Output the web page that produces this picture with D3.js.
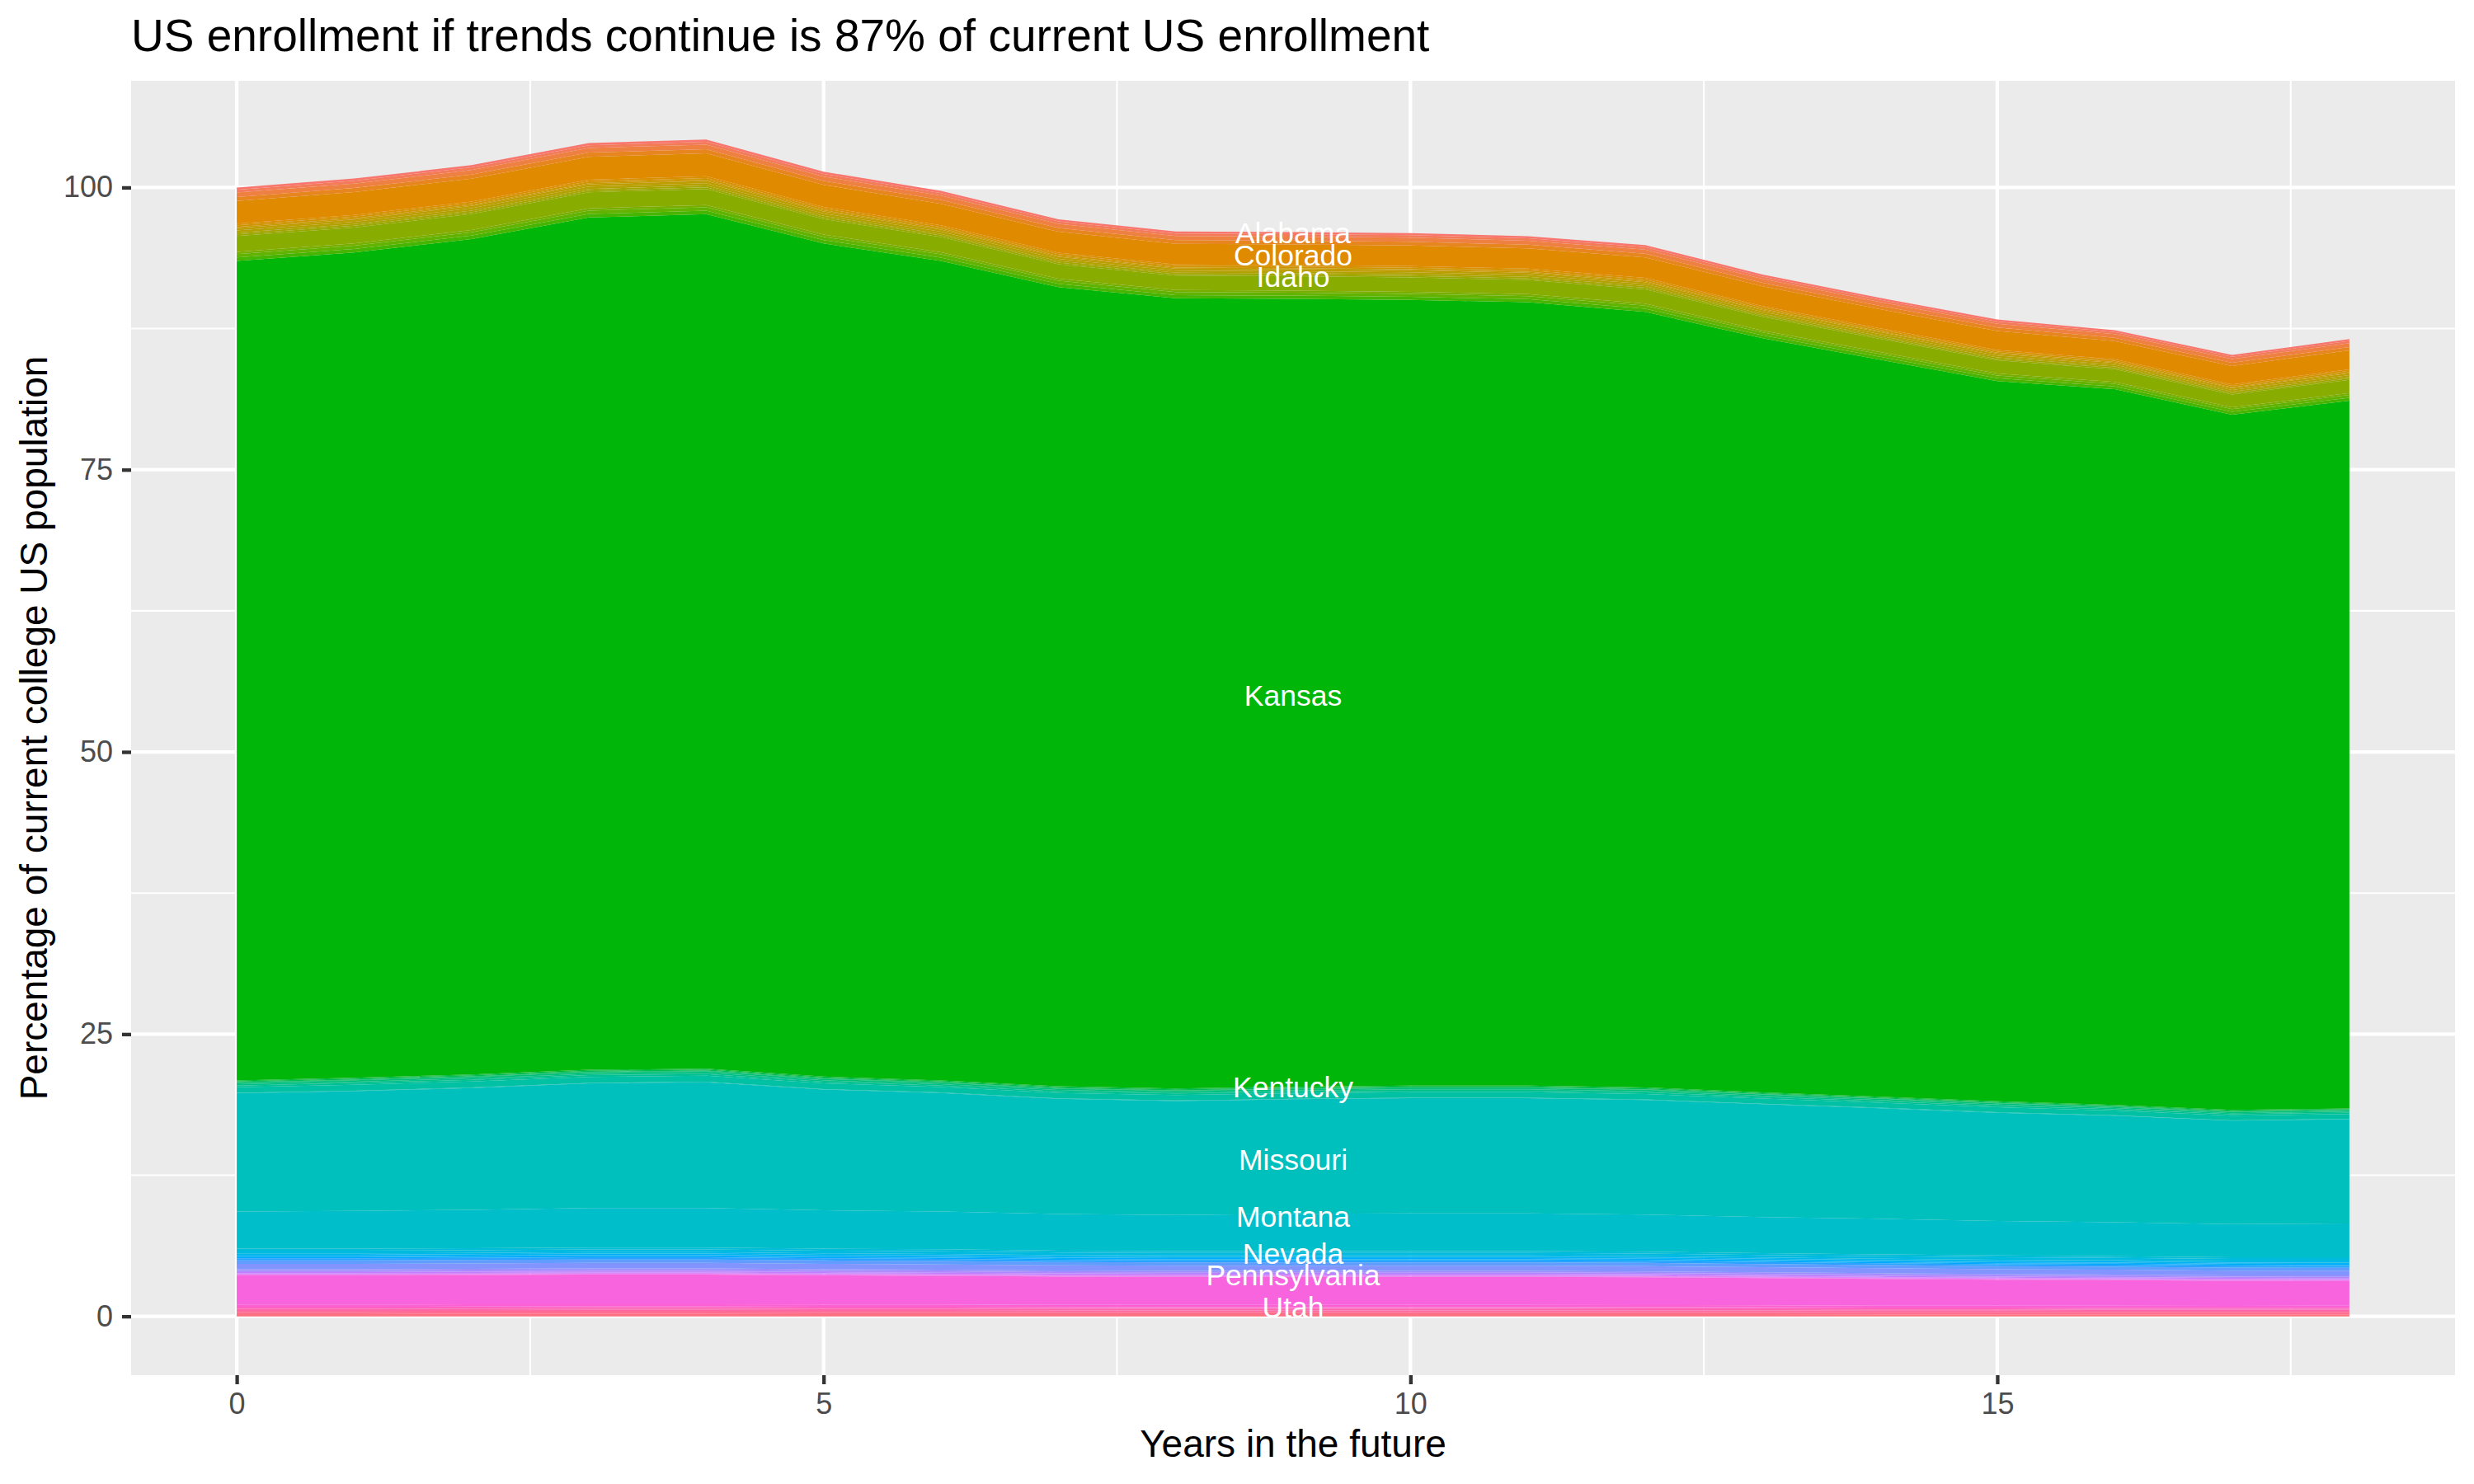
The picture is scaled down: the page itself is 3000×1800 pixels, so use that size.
<!DOCTYPE html>
<html>
<head>
<meta charset="utf-8">
<script src="https://cdn.jsdelivr.net/npm/d3@7"></script>
<style>
  body { margin: 0; background: #fff; }
  svg { display: block; font-family: "Liberation Sans", Arial, Helvetica, sans-serif; }
  .grid-major line { stroke: #fff; stroke-width: 4.3; }
  .grid-minor line { stroke: #fff; stroke-width: 2.1; }
  .tick-label { fill: #4d4d4d; font-size: 36px; }
  .axis-title { fill: #000; font-size: 46px; }
  .state-label { fill: #fff; font-size: 35.5px; }
</style>
</head>
<body>
<svg id="chart" width="3000" height="1800"></svg>
<script>
// ---- data ---------------------------------------------------------------
const years = [0, 1, 2, 3, 4, 5, 6, 7, 8, 9, 10, 11, 12, 13, 14, 15, 16, 17, 18];

const states = [
  'Alabama', 'Alaska', 'Arizona', 'Arkansas', 'California', 'Colorado', 'Connecticut',
  'Delaware', 'District of Columbia', 'Florida', 'Georgia', 'Hawaii', 'Idaho', 'Illinois',
  'Indiana', 'Iowa', 'Kansas', 'Kentucky', 'Louisiana', 'Maine', 'Maryland', 'Massachusetts',
  'Michigan', 'Minnesota', 'Mississippi', 'Missouri', 'Montana', 'Nebraska', 'Nevada',
  'New Hampshire', 'New Jersey', 'New Mexico', 'New York', 'North Carolina', 'North Dakota',
  'Ohio', 'Oklahoma', 'Oregon', 'Pennsylvania', 'Rhode Island', 'South Carolina',
  'South Dakota', 'Tennessee', 'Texas', 'Utah', 'Vermont', 'Virginia', 'Washington',
  'West Virginia', 'Wisconsin', 'Wyoming'
];

// Alabama .. Iowa (top of the stack)
const upperValues = [
  [0.20, 0.20, 0.20, 0.20, 0.20, 0.20, 0.19, 0.18, 0.18, 0.18, 0.18, 0.18, 0.18, 0.17, 0.17, 0.17, 0.16, 0.16, 0.17],
  [0.24, 0.24, 0.24, 0.24, 0.24, 0.23, 0.23, 0.22, 0.22, 0.22, 0.22, 0.22, 0.22, 0.21, 0.20, 0.20, 0.19, 0.20, 0.20],
  [0.40, 0.40, 0.40, 0.41, 0.41, 0.39, 0.38, 0.37, 0.36, 0.36, 0.36, 0.36, 0.36, 0.35, 0.34, 0.34, 0.32, 0.33, 0.34],
  [0.36, 0.36, 0.36, 0.37, 0.37, 0.35, 0.34, 0.33, 0.33, 0.33, 0.33, 0.32, 0.33, 0.31, 0.30, 0.30, 0.29, 0.29, 0.30],
  [2.00, 2.02, 2.02, 2.03, 2.03, 1.95, 1.91, 1.85, 1.82, 1.82, 1.82, 1.80, 1.82, 1.74, 1.69, 1.68, 1.62, 1.63, 1.68],
  [0.15, 0.15, 0.15, 0.15, 0.15, 0.15, 0.14, 0.14, 0.14, 0.14, 0.14, 0.14, 0.14, 0.13, 0.13, 0.13, 0.12, 0.12, 0.13],
  [0.15, 0.15, 0.15, 0.16, 0.16, 0.15, 0.14, 0.14, 0.14, 0.14, 0.14, 0.13, 0.14, 0.13, 0.13, 0.12, 0.12, 0.12, 0.13],
  [0.10, 0.10, 0.10, 0.10, 0.10, 0.10, 0.10, 0.09, 0.09, 0.09, 0.09, 0.09, 0.09, 0.09, 0.08, 0.08, 0.08, 0.08, 0.08],
  [0.20, 0.20, 0.20, 0.20, 0.20, 0.19, 0.19, 0.18, 0.18, 0.18, 0.18, 0.18, 0.18, 0.17, 0.17, 0.17, 0.16, 0.16, 0.17],
  [0.20, 0.21, 0.21, 0.21, 0.21, 0.20, 0.19, 0.19, 0.18, 0.18, 0.18, 0.18, 0.18, 0.17, 0.17, 0.17, 0.16, 0.16, 0.17],
  [0.15, 0.15, 0.15, 0.15, 0.15, 0.15, 0.14, 0.14, 0.14, 0.14, 0.14, 0.14, 0.14, 0.13, 0.13, 0.13, 0.12, 0.12, 0.13],
  [0.15, 0.15, 0.15, 0.15, 0.15, 0.14, 0.14, 0.14, 0.13, 0.13, 0.14, 0.13, 0.14, 0.13, 0.12, 0.12, 0.12, 0.12, 0.12],
  [1.40, 1.41, 1.41, 1.42, 1.42, 1.37, 1.34, 1.29, 1.27, 1.27, 1.27, 1.26, 1.27, 1.22, 1.18, 1.17, 1.13, 1.14, 1.17],
  [0.20, 0.20, 0.20, 0.20, 0.20, 0.20, 0.19, 0.18, 0.18, 0.18, 0.18, 0.18, 0.18, 0.17, 0.17, 0.17, 0.16, 0.16, 0.17],
  [0.30, 0.30, 0.30, 0.30, 0.30, 0.29, 0.29, 0.28, 0.27, 0.27, 0.27, 0.27, 0.27, 0.26, 0.25, 0.25, 0.24, 0.24, 0.25],
  [0.30, 0.31, 0.31, 0.31, 0.31, 0.30, 0.29, 0.28, 0.28, 0.28, 0.27, 0.27, 0.28, 0.26, 0.25, 0.25, 0.24, 0.25, 0.25]
];

const kansas = [72.6, 73.1, 74.0, 75.5, 75.7, 73.8, 72.6, 70.8, 70.0, 69.8, 69.6, 69.4, 68.7, 66.8, 65.3, 63.8, 63.4, 61.6, 62.7];

// Kentucky .. Mississippi
const middleValues = [
  [0.08, 0.08, 0.08, 0.08, 0.08, 0.08, 0.08, 0.08, 0.08, 0.08, 0.08, 0.08, 0.08, 0.07, 0.07, 0.07, 0.07, 0.07, 0.07],
  [0.08, 0.09, 0.09, 0.09, 0.09, 0.08, 0.08, 0.08, 0.08, 0.08, 0.08, 0.08, 0.08, 0.07, 0.07, 0.07, 0.07, 0.07, 0.07],
  [0.05, 0.05, 0.05, 0.05, 0.05, 0.05, 0.05, 0.05, 0.05, 0.05, 0.05, 0.05, 0.05, 0.05, 0.04, 0.04, 0.04, 0.04, 0.04],
  [0.12, 0.13, 0.13, 0.13, 0.13, 0.12, 0.12, 0.12, 0.12, 0.12, 0.12, 0.12, 0.12, 0.11, 0.11, 0.11, 0.10, 0.10, 0.10],
  [0.12, 0.12, 0.12, 0.12, 0.12, 0.12, 0.12, 0.12, 0.12, 0.12, 0.12, 0.12, 0.12, 0.11, 0.11, 0.11, 0.10, 0.10, 0.10],
  [0.15, 0.16, 0.16, 0.16, 0.16, 0.15, 0.14, 0.14, 0.14, 0.14, 0.14, 0.14, 0.14, 0.14, 0.13, 0.13, 0.12, 0.12, 0.12],
  [0.50, 0.53, 0.53, 0.53, 0.53, 0.51, 0.48, 0.48, 0.48, 0.48, 0.48, 0.48, 0.48, 0.46, 0.44, 0.44, 0.42, 0.42, 0.42],
  [0.04, 0.04, 0.04, 0.04, 0.04, 0.04, 0.04, 0.04, 0.04, 0.04, 0.04, 0.04, 0.04, 0.04, 0.04, 0.04, 0.03, 0.03, 0.03]
];

const missouri = [10.48, 10.6, 10.8, 11.05, 11.15, 10.7, 10.5, 10.2, 10.1, 10.15, 10.2, 10.2, 10.15, 10.0, 9.8, 9.6, 9.45, 9.15, 9.25];
const montana = [3.29, 3.35, 3.4, 3.5, 3.5, 3.4, 3.35, 3.25, 3.2, 3.3, 3.35, 3.35, 3.3, 3.2, 3.15, 3.05, 3.0, 2.95, 2.99];

// Nebraska .. Wyoming (bottom of the stack)
const lowerValues = [
  [0.17, 0.17, 0.17, 0.17, 0.17, 0.17, 0.17, 0.16, 0.16, 0.16, 0.16, 0.16, 0.16, 0.16, 0.16, 0.15, 0.15, 0.15, 0.15],
  [0.24, 0.24, 0.24, 0.24, 0.24, 0.24, 0.24, 0.23, 0.23, 0.23, 0.23, 0.23, 0.23, 0.22, 0.22, 0.22, 0.21, 0.21, 0.21],
  [0.12, 0.12, 0.12, 0.12, 0.12, 0.12, 0.12, 0.12, 0.12, 0.12, 0.12, 0.12, 0.11, 0.11, 0.11, 0.11, 0.11, 0.11, 0.11],
  [0.12, 0.12, 0.12, 0.13, 0.13, 0.12, 0.12, 0.12, 0.12, 0.12, 0.12, 0.12, 0.11, 0.11, 0.11, 0.11, 0.11, 0.10, 0.11],
  [0.10, 0.10, 0.10, 0.10, 0.10, 0.10, 0.10, 0.10, 0.10, 0.10, 0.10, 0.10, 0.10, 0.09, 0.09, 0.09, 0.09, 0.09, 0.09],
  [0.10, 0.10, 0.10, 0.10, 0.10, 0.10, 0.10, 0.10, 0.10, 0.10, 0.10, 0.10, 0.10, 0.09, 0.09, 0.09, 0.09, 0.09, 0.09],
  [0.19, 0.19, 0.19, 0.19, 0.19, 0.19, 0.19, 0.18, 0.18, 0.18, 0.18, 0.18, 0.18, 0.18, 0.17, 0.17, 0.17, 0.17, 0.17],
  [0.30, 0.30, 0.30, 0.31, 0.31, 0.30, 0.30, 0.29, 0.29, 0.29, 0.29, 0.29, 0.29, 0.28, 0.28, 0.27, 0.27, 0.26, 0.26],
  [0.48, 0.48, 0.48, 0.49, 0.49, 0.48, 0.47, 0.46, 0.46, 0.46, 0.46, 0.46, 0.46, 0.45, 0.44, 0.43, 0.43, 0.42, 0.42],
  [0.14, 0.14, 0.14, 0.14, 0.14, 0.14, 0.14, 0.14, 0.13, 0.13, 0.13, 0.13, 0.13, 0.13, 0.13, 0.13, 0.13, 0.12, 0.12],
  [0.12, 0.12, 0.12, 0.12, 0.12, 0.12, 0.12, 0.12, 0.12, 0.12, 0.12, 0.12, 0.11, 0.11, 0.11, 0.11, 0.11, 0.11, 0.11],
  [0.10, 0.10, 0.10, 0.10, 0.10, 0.10, 0.10, 0.10, 0.10, 0.10, 0.10, 0.10, 0.10, 0.09, 0.09, 0.09, 0.09, 0.09, 0.09],
  [0.06, 0.06, 0.06, 0.06, 0.06, 0.06, 0.06, 0.06, 0.06, 0.06, 0.06, 0.06, 0.06, 0.06, 0.05, 0.05, 0.05, 0.05, 0.05],
  [0.05, 0.05, 0.05, 0.05, 0.05, 0.05, 0.05, 0.05, 0.05, 0.05, 0.05, 0.05, 0.05, 0.05, 0.05, 0.05, 0.04, 0.04, 0.04],
  [0.03, 0.03, 0.03, 0.03, 0.03, 0.03, 0.03, 0.03, 0.03, 0.03, 0.03, 0.03, 0.03, 0.03, 0.03, 0.03, 0.03, 0.03, 0.03],
  [0.04, 0.04, 0.04, 0.04, 0.04, 0.04, 0.04, 0.04, 0.04, 0.04, 0.04, 0.04, 0.04, 0.04, 0.04, 0.04, 0.04, 0.04, 0.04],
  [2.58, 2.58, 2.61, 2.63, 2.63, 2.58, 2.54, 2.50, 2.48, 2.48, 2.48, 2.48, 2.46, 2.41, 2.37, 2.30, 2.27, 2.22, 2.20],
  [0.20, 0.20, 0.20, 0.20, 0.20, 0.20, 0.20, 0.19, 0.19, 0.19, 0.19, 0.19, 0.19, 0.19, 0.18, 0.18, 0.18, 0.18, 0.18],
  [0.08, 0.08, 0.08, 0.08, 0.08, 0.08, 0.08, 0.08, 0.08, 0.08, 0.08, 0.08, 0.08, 0.07, 0.07, 0.07, 0.07, 0.07, 0.07],
  [0.10, 0.10, 0.10, 0.10, 0.10, 0.10, 0.10, 0.10, 0.10, 0.10, 0.10, 0.10, 0.10, 0.09, 0.09, 0.09, 0.09, 0.09, 0.09],
  [0.12, 0.12, 0.12, 0.12, 0.12, 0.12, 0.12, 0.12, 0.12, 0.12, 0.12, 0.12, 0.11, 0.11, 0.11, 0.11, 0.11, 0.11, 0.11],
  [0.15, 0.15, 0.15, 0.15, 0.15, 0.15, 0.15, 0.15, 0.14, 0.14, 0.14, 0.14, 0.14, 0.14, 0.14, 0.14, 0.13, 0.13, 0.13],
  [0.20, 0.20, 0.20, 0.21, 0.21, 0.20, 0.20, 0.19, 0.19, 0.19, 0.19, 0.19, 0.19, 0.19, 0.18, 0.18, 0.18, 0.18, 0.18],
  [0.20, 0.20, 0.21, 0.21, 0.21, 0.20, 0.20, 0.19, 0.19, 0.19, 0.19, 0.19, 0.19, 0.19, 0.18, 0.18, 0.18, 0.17, 0.18]
];

// direct labels drawn at year 9
const labelYear = 9;
const labelNames = ['Alabama', 'Colorado', 'Idaho', 'Kansas', 'Kentucky', 'Missouri', 'Montana', 'Nevada', 'Pennsylvania', 'Utah'];
const labelValues = [96.0, 94.0, 92.1, 55.0, 20.3, 13.9, 8.9, 5.55, 3.7, 0.8];

const xBreaks = [0, 5, 10, 15];
const xMinor = [2.5, 7.5, 12.5, 17.5];
const yBreaks = [0, 25, 50, 75, 100];
const yMinor = [12.5, 37.5, 62.5, 87.5];

const title = 'US enrollment if trends continue is 87% of current US enrollment';
const xTitle = 'Years in the future';
const yTitle = 'Percentage of current college US population';

// ---- helpers ------------------------------------------------------------
// ggplot's hue palette uses polar CIE-Luv (R's hcl), not d3's Lab-based hcl
function hueColor(h, c = 100, l = 65) {
  const hr = (h * Math.PI) / 180;
  const U = c * Math.cos(hr);
  const V = c * Math.sin(hr);
  const Xn = 95.047, Yn = 100, Zn = 108.883;
  const den = Xn + 15 * Yn + 3 * Zn;
  const un = (4 * Xn) / den, vn = (9 * Yn) / den;
  const Y = l > 8 ? Yn * Math.pow((l + 16) / 116, 3) : (Yn * l) / 903.3;
  const u = U / (13 * l) + un;
  const v = V / (13 * l) + vn;
  const X = (9 * Y * u) / (4 * v);
  const Z = -X / 3 - 5 * Y + (3 * Y) / v;
  const gam = t => (t > 0.0031308 ? 1.055 * Math.pow(t, 1 / 2.4) - 0.055 : 12.92 * t);
  const r = gam((3.240479 * X - 1.53715 * Y - 0.498535 * Z) / 100);
  const g = gam((-0.969256 * X + 1.875992 * Y + 0.041556 * Z) / 100);
  const b = gam((0.055648 * X - 0.204043 * Y + 1.057311 * Z) / 100);
  const k = t => Math.round(255 * Math.max(0, Math.min(1, t)));
  return d3.rgb(k(r), k(g), k(b)).formatHex();
}

const hueStep = 360 / states.length;
const colour = d3.scaleOrdinal()
  .domain(states)
  .range(states.map((s, i) => hueColor(15 + i * hueStep)));

const seriesValues = [...upperValues, kansas, ...middleValues, missouri, montana, ...lowerValues];

const rows = years.map((year, i) => {
  const row = { year };
  states.forEach((s, j) => (row[s] = seriesValues[j][i]));
  return row;
});

// ---- layout -------------------------------------------------------------
const panel = { left: 159, top: 98, right: 2977, bottom: 1668 };

const svg = d3.select('#chart');

// first level ends on top, like position_stack
const stacked = d3.stack().keys(states.slice().reverse())(rows);
const maxTotal = d3.max(stacked[stacked.length - 1], d => d[1]);

const xExt = d3.extent(years);
const xPad = (xExt[1] - xExt[0]) * 0.05;
const x = d3.scaleLinear()
  .domain([xExt[0] - xPad, xExt[1] + xPad])
  .range([panel.left, panel.right]);

const yPad = maxTotal * 0.05;
const y = d3.scaleLinear()
  .domain([-yPad, maxTotal + yPad])
  .range([panel.bottom, panel.top]);

svg.append('rect')
  .attr('x', panel.left)
  .attr('y', panel.top)
  .attr('width', panel.right - panel.left)
  .attr('height', panel.bottom - panel.top)
  .attr('fill', '#ebebeb');

// grid
const minor = svg.append('g').attr('class', 'grid-minor');
minor.selectAll('line.v').data(xMinor).join('line').attr('class', 'v')
  .attr('x1', d => x(d)).attr('x2', d => x(d))
  .attr('y1', panel.top).attr('y2', panel.bottom);
minor.selectAll('line.h').data(yMinor).join('line').attr('class', 'h')
  .attr('x1', panel.left).attr('x2', panel.right)
  .attr('y1', d => y(d)).attr('y2', d => y(d));

const major = svg.append('g').attr('class', 'grid-major');
major.selectAll('line.v').data(xBreaks).join('line').attr('class', 'v')
  .attr('x1', d => x(d)).attr('x2', d => x(d))
  .attr('y1', panel.top).attr('y2', panel.bottom);
major.selectAll('line.h').data(yBreaks).join('line').attr('class', 'h')
  .attr('x1', panel.left).attr('x2', panel.right)
  .attr('y1', d => y(d)).attr('y2', d => y(d));

// areas
const area = d3.area()
  .x(d => x(d.data.year))
  .y0(d => y(d[0]))
  .y1(d => y(d[1]));

svg.append('g')
  .selectAll('path')
  .data(stacked)
  .join('path')
  .attr('fill', d => colour(d.key))
  .attr('d', area);

// state labels
svg.append('g')
  .selectAll('text')
  .data(labelNames)
  .join('text')
  .attr('class', 'state-label')
  .attr('x', x(labelYear))
  .attr('y', (d, i) => y(labelValues[i]))
  .attr('dy', '0.36em')
  .attr('text-anchor', 'middle')
  .text(d => d);

// axes
const xAxis = svg.append('g')
  .attr('transform', `translate(0, ${panel.bottom})`)
  .call(d3.axisBottom(x).tickValues(xBreaks).tickSize(11).tickPadding(10).tickFormat(d3.format('d')))
  .call(g => g.select('.domain').remove());
xAxis.selectAll('.tick line').attr('stroke', '#333').attr('stroke-width', 4.3);
xAxis.selectAll('.tick text').attr('class', 'tick-label').attr('font-family', null).attr('font-size', null).attr('fill', null);

const yAxis = svg.append('g')
  .attr('transform', `translate(${panel.left}, 0)`)
  .call(d3.axisLeft(y).tickValues(yBreaks).tickSize(11).tickPadding(11).tickFormat(d3.format('d')))
  .call(g => g.select('.domain').remove());
yAxis.selectAll('.tick line').attr('stroke', '#333').attr('stroke-width', 4.3);
yAxis.selectAll('.tick text').attr('class', 'tick-label').attr('font-family', null).attr('font-size', null).attr('fill', null);

// titles
svg.append('text')
  .attr('x', panel.left)
  .attr('y', 62)
  .attr('font-size', 55)
  .attr('fill', '#000')
  .text(title);

svg.append('text')
  .attr('class', 'axis-title')
  .attr('x', (panel.left + panel.right) / 2)
  .attr('y', 1767)
  .attr('text-anchor', 'middle')
  .text(xTitle);

svg.append('text')
  .attr('class', 'axis-title')
  .attr('transform', `translate(57, ${(panel.top + panel.bottom) / 2}) rotate(-90)`)
  .attr('text-anchor', 'middle')
  .text(yTitle);
</script>
</body>
</html>
